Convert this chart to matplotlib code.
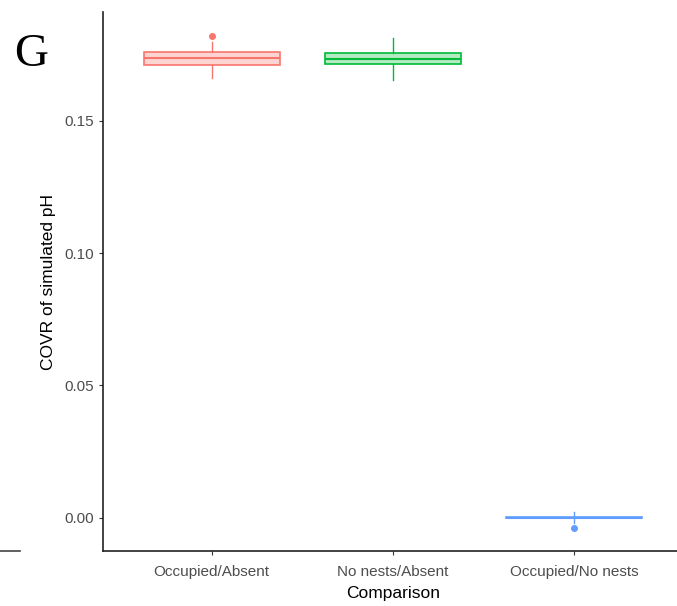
import numpy as np
import matplotlib
matplotlib.use('Agg')
import matplotlib.pyplot as plt

plt.rcParams['font.family'] = ['Liberation Sans', 'DejaVu Sans']

categories = ['Occupied/Absent', 'No nests/Absent', 'Occupied/No nests']
colors = ['#F8766D', '#00BA38', '#619CFF']

# box stats: whislo, q1, median, q3, whishi
whislo = [0.1660, 0.1655, -0.0019]
q1 = [0.1709, 0.1712, 0.0000]
med = [0.1737, 0.1731, 0.0001]
q3 = [0.1758, 0.1754, 0.0002]
whishi = [0.1796, 0.1811, 0.0024]
outliers = [[0.1819], [], [-0.0037]]

stats = []
for i in range(3):
    stats.append(dict(whislo=whislo[i], q1=q1[i], med=med[i], q3=q3[i],
                      whishi=whishi[i], fliers=outliers[i]))

fig = plt.figure(figsize=(6.77, 6.06), dpi=100)
ax = fig.add_axes([103 / 677, (606 - 551) / 606, 580 / 677, 539 / 606])

for i, s in enumerate(stats):
    c = colors[i]
    ax.bxp([s], positions=[i + 1], widths=0.75, patch_artist=True,
           showcaps=False,
           boxprops=dict(facecolor=matplotlib.colors.to_rgba(c, 0.3), edgecolor=c, linewidth=1.2),
           medianprops=dict(color=c, linewidth=1.5),
           whiskerprops=dict(color=c, linewidth=1),
           flierprops=dict(marker='o', markerfacecolor=c, markeredgecolor=c, markersize=4))

ax.set_xlim(0.4, 3.6)
ax.set_ylim(-0.0125, 0.191)
ax.set_yticks([0.0, 0.05, 0.10, 0.15])
ax.set_yticklabels(['0.00', '0.05', '0.10', '0.15'])
ax.set_xticks([1, 2, 3])
ax.set_xticklabels(categories)
ax.tick_params(colors='#333333', labelcolor='#4d4d4d', labelsize=11, length=3)
ax.tick_params(axis='x', pad=7)
for side in ['top', 'right']:
    ax.spines[side].set_visible(False)
for side in ['left', 'bottom']:
    ax.spines[side].set_color('#222222')
    ax.spines[side].set_linewidth(1.2)

ax.set_xlabel('Comparison', fontsize=12.5, labelpad=5)
ax.set_ylabel('COVR of simulated pH', fontsize=12.5, labelpad=6)

fig.text(14 / 677, (606 - 66) / 606, 'G', fontsize=34, family='Liberation Serif')
fig.add_artist(plt.Line2D([0, 20 / 677], [(606 - 551) / 606] * 2,
                          color='#444444', linewidth=1.2))

fig.savefig('out.png', dpi=100)
